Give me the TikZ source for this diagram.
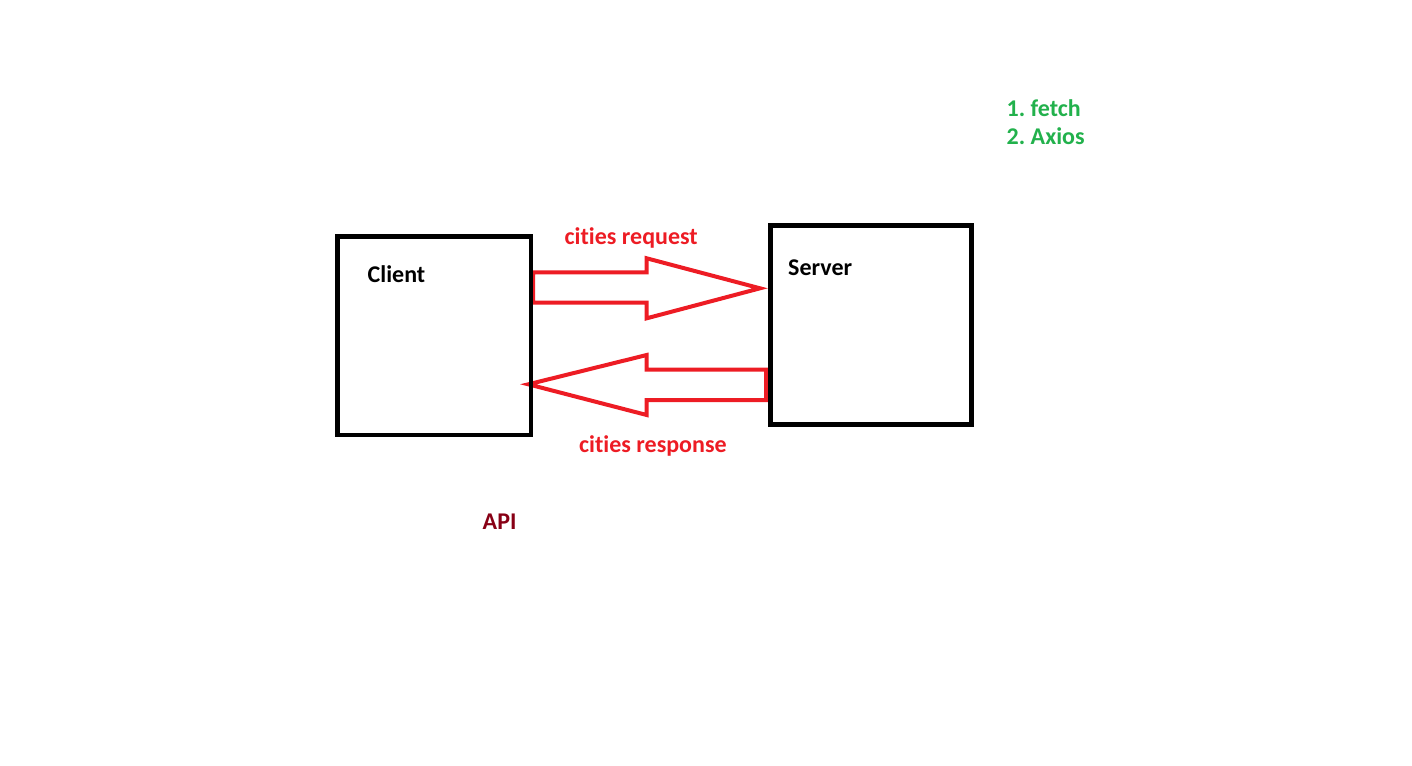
\documentclass[tikz,border=0pt]{standalone}
\usepackage{fontspec}
\setmainfont[Ligatures={NoCommon}]{Carlito}
\definecolor{pred}{HTML}{ED1C24}
\definecolor{pgreen}{HTML}{22B14C}
\definecolor{pdark}{HTML}{880015}
\frenchspacing
\begin{document}
\begin{tikzpicture}[x=1pt,y=-1pt,
  box/.style={draw=black,line width=4.7pt},
  bigarrow/.style={draw=pred,line width=4pt,line join=miter},
  lbl/.style={anchor=base west,inner sep=0pt,font=\fontsize{24}{28}\selectfont\bfseries}]
\useasboundingbox (0,0) rectangle (1412,765);
% request / response arrows (under the boxes)
\coordinate (client) at (533,288.3);
\coordinate (server) at (766,384.3);
\draw[bigarrow] (client |- 0,272.3) -- (646.7,272.3) -- (646.7,258.3) -- (760,288.3)
  -- (646.7,318.3) -- (646.7,302.7) -- (client |- 0,302.7) -- cycle;
\draw[bigarrow] (server |- 0,369.7) -- (646.7,369.7) -- (646.7,355) -- (528.3,384.3)
  -- (646.7,415) -- (646.7,400) -- (server |- 0,400) -- cycle;
% boxes
\draw[box] (337.5,236.7) rectangle (531,435);
\draw[box] (770.3,225.3) rectangle (971.3,424.8);
% labels
\node[lbl] (tclient) at (367.5,282.3) {Client};
\node[lbl] (tserver) at (788,275.7) {Server};
\node[lbl,text=pred] (treq) at (564.5,244) {cities request};
\node[lbl,text=pred] (tresp) at (579,452.3) {cities response};
\node[lbl,text=pdark] (tapi) at (482.5,529) {API};
\node[lbl,text=pgreen] (t1) at (1006.5,116.7) {1. fetch};
\node[lbl,text=pgreen] (t2) at (1006.5,144.3) {2. Axios};
\end{tikzpicture}
\end{document}
